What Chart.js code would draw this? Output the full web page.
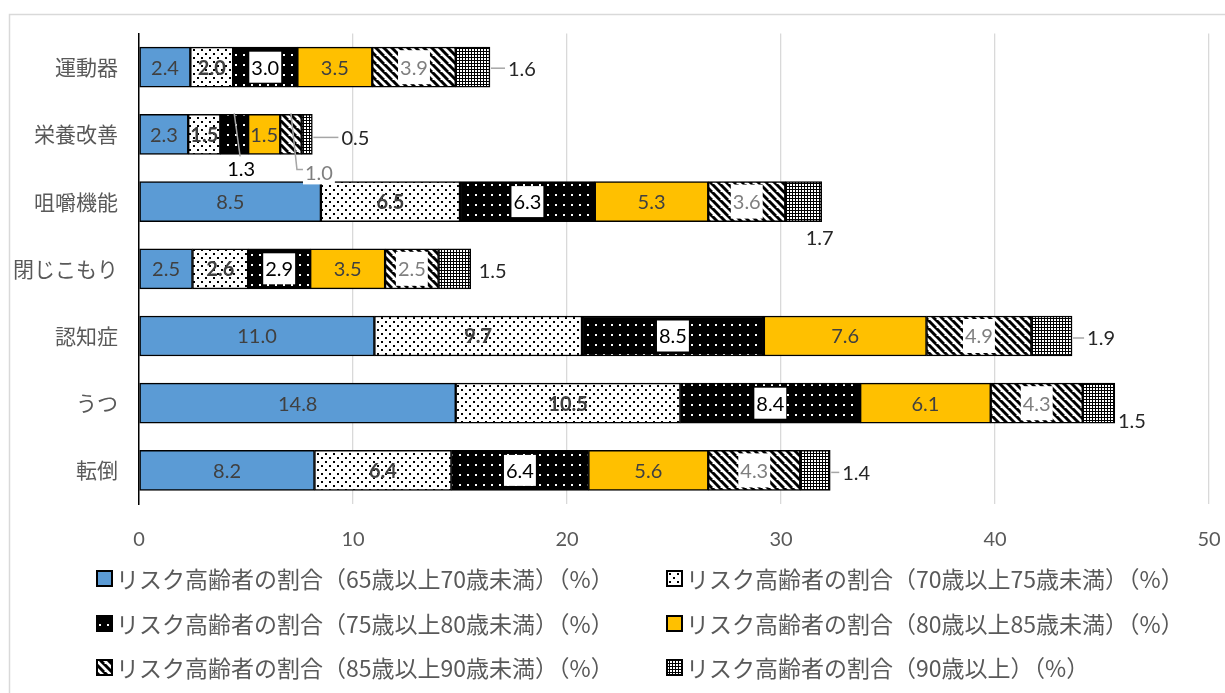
<!DOCTYPE html>
<html>
<head>
<meta charset="utf-8">
<script src="https://cdn.jsdelivr.net/npm/chart.js@4.4.1/dist/chart.umd.min.js"></script>
<style>
    html, body { margin: 0; padding: 0; background: #fff; }
</style>
</head>
<body>
<canvas id="chart" width="1225" height="693"></canvas>
<script>
// data
var categories = ['運動器', '栄養改善', '咀嚼機能', '閉じこもり', '認知症', 'うつ', '転倒']
var seriesNames = [
    'リスク高齢者の割合（65歳以上70歳未満）（%）',
    'リスク高齢者の割合（70歳以上75歳未満）（%）',
    'リスク高齢者の割合（75歳以上80歳未満）（%）',
    'リスク高齢者の割合（80歳以上85歳未満）（%）',
    'リスク高齢者の割合（85歳以上90歳未満）（%）',
    'リスク高齢者の割合（90歳以上）（%）'
]
var age65 = [2.4, 2.3, 8.5, 2.5, 11.0, 14.8, 8.2]
var age70 = [2.0, 1.5, 6.5, 2.6, 9.7, 10.5, 6.4]
var age75 = [3.0, 1.3, 6.3, 2.9, 8.5, 8.4, 6.4]
var age80 = [3.5, 1.5, 5.3, 3.5, 7.6, 6.1, 5.6]
var age85 = [3.9, 1.0, 3.6, 2.5, 4.9, 4.3, 4.3]
var age90 = [1.6, 0.5, 1.7, 1.5, 1.9, 1.5, 1.4]
var xTicks = [0, 10, 20, 30, 40, 50]

var numFont = 'Lato, "Liberation Sans", sans-serif'
var jpFont = '"Noto Sans CJK JP", sans-serif'

function makePattern(w, h, draw) {
    var c = document.createElement('canvas')
    c.width = w
    c.height = h
    var g = c.getContext('2d')
    draw(g)
    return g.createPattern(c, 'repeat')
}

// excel-ish fill patterns
var fills = [
    '#5b9bd5',
    makePattern(8, 8, function (g) {
        g.fillStyle = '#fff'; g.fillRect(0, 0, 8, 8)
        g.fillStyle = '#000'; g.fillRect(1, 1, 2, 2); g.fillRect(5, 5, 2, 2)
    }),
    makePattern(8, 10, function (g) {
        g.fillStyle = '#000'; g.fillRect(0, 0, 8, 10)
        g.fillStyle = '#fff'; g.fillRect(3, 4, 2, 2)
    }),
    '#ffc000',
    makePattern(8, 8, function (g) {
        g.fillStyle = '#fff'; g.fillRect(0, 0, 8, 8)
        g.strokeStyle = '#000'; g.lineWidth = 3
        for (var x = -8; x <= 16; x += 8) {
            g.beginPath(); g.moveTo(x - 8, -8); g.lineTo(x + 8, 8); g.stroke()
        }
    }),
    makePattern(3, 3, function (g) {
        g.fillStyle = '#000'; g.fillRect(0, 0, 3, 3)
        g.fillStyle = '#fff'; g.fillRect(1, 1, 2, 2)
    })
]

var labelStyle = [
    {color: '#404040'},
    {color: '#404040', bold: true},
    {color: '#000', box: true},
    {color: '#404040'},
    {color: '#7f7f7f', box: true},
    {color: '#262626', outside: true}
]
// crowded labels moved off the bar (栄養改善)
var movedLabels = {
    '2-1': {dx: 7, dy: 34, leader: 'slant'},
    '4-1': {dx: 28, dy: 38, leader: 'elbow'}
}
// 90歳以上 labels sit right of the bar end: dx, dy, leader line
var outsideLabels = [[32, 1, true], [43, 3, true], [-2, 36, false], [22, 2, false], [29, 2, true], [17, 17, false], [26, 2, true]]

var framePlugin = {
    id: 'frame',
    beforeDraw: function (chart) {
        var ctx = chart.ctx
        ctx.save()
        ctx.fillStyle = '#fff'
        ctx.fillRect(0, 0, chart.width, chart.height)
        ctx.strokeStyle = '#d9d9d9'
        ctx.lineWidth = 1.5
        ctx.strokeRect(9.5, 14.5, 1400, 900)
        ctx.restore()
    }
}

var barLabels = {
    id: 'barLabels',
    afterDatasetsDraw: function (chart) {
        var ctx = chart.ctx
        ctx.save()
        ctx.textAlign = 'center'
        ctx.textBaseline = 'middle'
        chart.data.datasets.forEach(function (ds, di) {
            var st = labelStyle[di]
            chart.getDatasetMeta(di).data.forEach(function (bar, i) {
                var txt = ds.data[i].toFixed(1)
                ctx.font = (st.bold ? 'bold ' : '') + '20px ' + numFont
                var tw = ctx.measureText(txt).width
                var mid = (bar.x + bar.base) / 2
                var cx = mid, cy = bar.y
                var top = bar.y - bar.height / 2
                ctx.strokeStyle = '#a6a6a6'
                ctx.lineWidth = 1.5
                if (st.outside) {
                    var o = outsideLabels[i]
                    cx = bar.x + o[0]
                    cy = bar.y + o[1]
                    if (o[2]) {
                        ctx.beginPath()
                        ctx.moveTo(bar.x + 1, cy)
                        ctx.lineTo(cx - tw / 2 - 3, cy)
                        ctx.stroke()
                    }
                } else if (movedLabels[di + '-' + i]) {
                    var m = movedLabels[di + '-' + i]
                    cx = mid + m.dx
                    cy = bar.y + m.dy
                    ctx.beginPath()
                    ctx.moveTo(mid, top - 1)
                    if (m.leader === 'slant') {
                        ctx.lineTo(cx - 1, cy - 11)
                    } else {
                        ctx.lineTo(mid + 6, cy - 3)
                        ctx.lineTo(cx - tw / 2 - 2, cy - 3)
                    }
                    ctx.stroke()
                }
                if (st.box) {
                    ctx.fillStyle = '#fff'
                    var bh = movedLabels[di + '-' + i] ? 24 : (di === 4 ? 34 : 31)
                    ctx.fillRect(cx - tw / 2 - 2, cy - bh / 2, tw + 4, bh)
                }
                ctx.fillStyle = st.color
                ctx.fillText(txt, cx, cy + 1)
            })
        })
        ctx.restore()
    }
}

var bottomLegend = {
    id: 'bottomLegend',
    afterDraw: function (chart) {
        var ctx = chart.ctx
        var cols = [97, 667]
        var rows = [579, 624, 668]
        ctx.save()
        ctx.font = '23px ' + jpFont
        ctx.textBaseline = 'middle'
        ctx.textAlign = 'left'
        seriesNames.forEach(function (name, k) {
            var x = cols[k % 2], y = rows[Math.floor(k / 2)]
            ctx.fillStyle = fills[k]
            ctx.fillRect(x, y - 8, 15, 15)
            ctx.strokeStyle = '#000'
            ctx.lineWidth = 2
            ctx.strokeRect(x, y - 8, 15, 15)
            ctx.fillStyle = '#595959'
            ctx.fillText(name, x + 19, y)
        })
        ctx.restore()
    }
}

var allSeries = [age65, age70, age75, age80, age85, age90]

new Chart(document.getElementById('chart'), {
    type: 'bar',
    data: {
        labels: categories,
        datasets: allSeries.map(function (vals, k) {
            return {
                label: seriesNames[k],
                data: vals,
                backgroundColor: fills[k],
                borderColor: '#000',
                borderWidth: 1.5,
                borderSkipped: false,
                barThickness: 40
            }
        })
    },
    options: {
        indexAxis: 'y',
        responsive: false,
        animation: false,
        devicePixelRatio: 1,
        layout: {padding: {left: 0, right: 16, top: 32, bottom: 139}},
        plugins: {
            legend: {display: false},
            tooltip: {enabled: false}
        },
        scales: {
            x: {
                stacked: true,
                min: 0,
                max: 50,
                afterBuildTicks: function (s) {
                    s.ticks = xTicks.map(function (v) { return {value: v} })
                },
                ticks: {padding: 24, color: '#595959', font: {family: numFont, size: 20}},
                grid: {color: '#d9d9d9', lineWidth: 1.3, drawTicks: false},
                border: {display: false},
                afterFit: function (s) {
                    s.height = 50
                    s.paddingLeft = 0
                    s.paddingRight = 0
                }
            },
            y: {
                stacked: true,
                ticks: {padding: 21, color: '#595959', font: {family: jpFont, size: 21}},
                grid: {display: false, drawTicks: false},
                border: {display: true, color: '#000', width: 1.5},
                afterFit: function (s) { s.width = 139 }
            }
        }
    },
    plugins: [framePlugin, barLabels, bottomLegend]
})
</script>
</body>
</html>
